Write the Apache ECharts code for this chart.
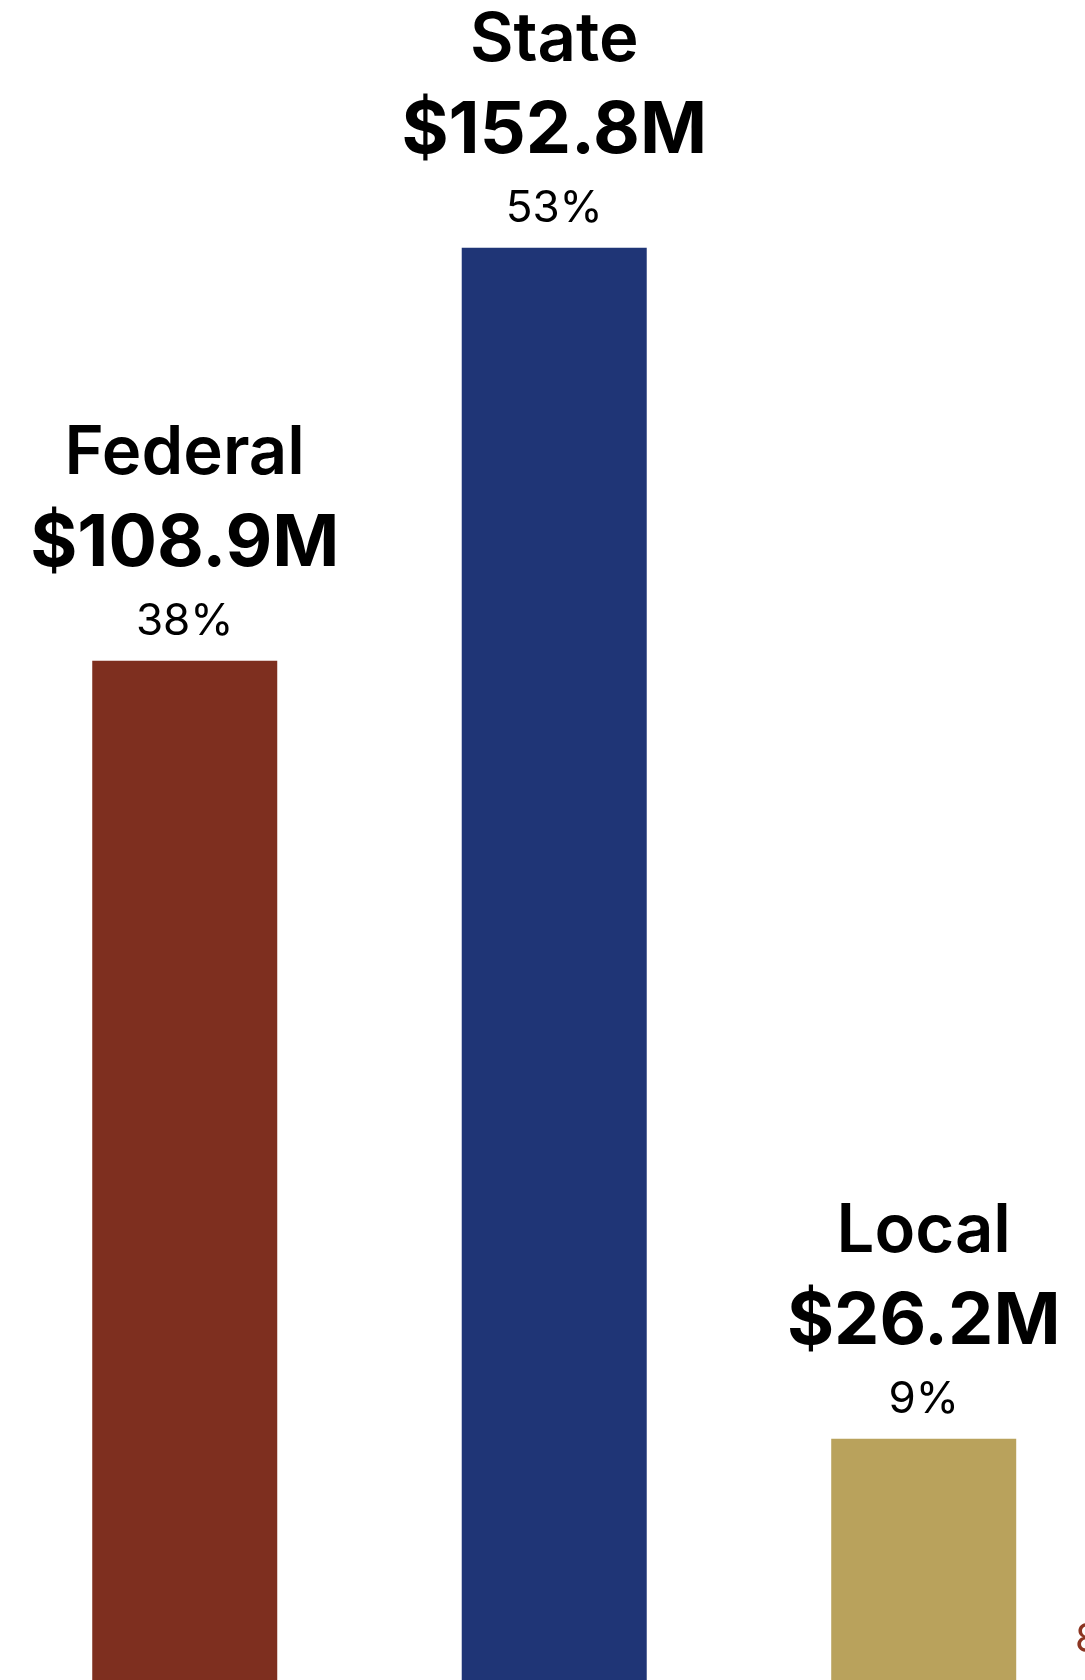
<!DOCTYPE html>
<html>
<head>
<meta charset="utf-8">
<script src="https://cdn.jsdelivr.net/npm/echarts@6/dist/echarts.min.js"></script>
<style>
html,body{margin:0;padding:0;background:#fff;}
#chart{width:1085px;height:1680px;}
</style>
</head>
<body>
<div id="chart"></div>
<script>
var categories = ['Federal', 'State', 'Local'];
var values = [108.9, 152.8, 26.2];
var valueLabels = ['$108.9M', '$152.8M', '$26.2M'];
var percents = ['38%', '53%', '9%'];
var colors = ['#7E2F1F', '#1F3576', '#B9A25C'];
var edgeNote = '8';

var FONT = 'Inter, "Noto Sans", sans-serif';
var chart = echarts.init(document.getElementById('chart'), null, {renderer: 'canvas'});
chart.setOption({
  animation: false,
  backgroundColor: '#ffffff',
  grid: {left: 0, right: 0, top: 0, bottom: 0, containLabel: false},
  xAxis: {type: 'value', min: -0.5, max: 2.4365, show: false},
  yAxis: {type: 'value', min: 0.56, max: 179.12, show: false},
  series: [{
    type: 'bar',
    barWidth: 185,
    data: values.map(function (v, i) {
      return {value: [i, v], itemStyle: {color: colors[i]}};
    }),
    label: {
      show: true,
      position: 'top',
      distance: 11,
      formatter: function (p) {
        var i = p.dataIndex;
        return '{n|' + categories[i] + '}\n{v|' + valueLabels[i] + '}\n{p|' + percents[i] + '}';
      },
      rich: {
        n: {fontFamily: FONT, fontSize: 67, fontWeight: 600, color: '#000', lineHeight: 84, align: 'center'},
        v: {fontFamily: FONT, fontSize: 72, fontWeight: 700, color: '#000', lineHeight: 98, align: 'center'},
        p: {fontFamily: FONT, fontSize: 44, fontWeight: 400, color: '#000', lineHeight: 56, align: 'center'}
      }
    }
  }],
  graphic: [{
    type: 'text',
    left: 1075,
    top: 1620,
    style: {text: edgeNote, font: '400 40px ' + FONT, fill: '#8B3522'}
  }]
});
</script>
</body>
</html>
